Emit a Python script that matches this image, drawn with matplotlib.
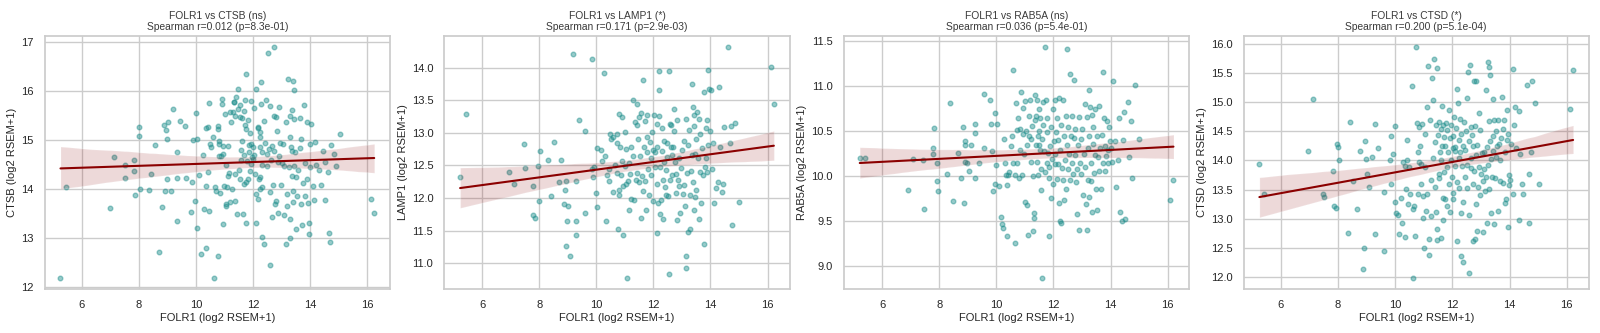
import numpy as np
import matplotlib
matplotlib.use("Agg")
import matplotlib.pyplot as plt
import seaborn as sns

# FOLR1 (x) vs target gene (y)
ctsb_pts = [
    (5.25, 12.2), (5.44, 14.04), (7.14, 14.66), (6.99, 13.61), (7.5, 14.22), (7.5, 14.5),
    (7.84, 14.6), (7.81, 14.37), (8.0, 15.26), (8.02, 15.09), (8.05, 14.0), (7.87, 13.89),
    (8.36, 13.99), (8.44, 14.32), (8.55, 14.91), (8.71, 12.73), (8.8, 13.64), (8.89, 15.3),
    (8.96, 15.2), (8.97, 14.2), (8.92, 13.96), (9.02, 15.38), (9.0, 15.03), (9.11, 13.96),
    (9.2, 15.63), (9.33, 14.75), (9.32, 14.23), (9.32, 13.36), (9.43, 15.4), (9.63, 15.29),
    (9.64, 14.22), (9.88, 15.0), (9.87, 14.15), (9.82, 13.53), (9.96, 13.76), (10.0, 15.55),
    (10.04, 15.02), (10.05, 13.2), (10.09, 14.3), (10.18, 12.69), (10.23, 14.7), (10.28, 13.6),
    (10.35, 12.8), (10.36, 14.07), (10.36, 15.24), (10.43, 15.26), (10.43, 14.36), (10.44, 13.55),
    (10.44, 15.75), (10.5, 14.92), (10.54, 14.86), (10.58, 15.06), (10.64, 12.2), (10.65, 14.04),
    (10.72, 13.97), (10.78, 15.29), (10.78, 12.63), (10.79, 15.22), (10.81, 14.98), (10.81, 14.92),
    (10.82, 14.67), (10.85, 13.93), (10.88, 14.67), (10.92, 15.84), (10.92, 15.74), (10.94, 13.29),
    (10.95, 14.72), (10.96, 14.88), (10.99, 14.07), (11.02, 15.53), (11.05, 13.7), (11.06, 14.5),
    (11.06, 13.65), (11.09, 14.05), (11.14, 14.89), (11.14, 14.27), (11.15, 14.34), (11.2, 13.74),
    (11.21, 15.58), (11.23, 15.38), (11.25, 14.0), (11.3, 15.58), (11.33, 15.77), (11.34, 15.77),
    (11.36, 15.49), (11.36, 14.31), (11.37, 13.76), (11.42, 15.89), (11.45, 13.49), (11.47, 16.05),
    (11.48, 15.63), (11.51, 14.39), (11.54, 14.21), (11.55, 15.48), (11.56, 15.71), (11.57, 14.6),
    (11.58, 14.8), (11.61, 14.99), (11.62, 15.45), (11.65, 13.49), (11.67, 14.1), (11.69, 15.6),
    (11.69, 14.69), (11.71, 15.81), (11.72, 15.3), (11.75, 16.34), (11.75, 15.22), (11.76, 14.14),
    (11.77, 13.31), (11.78, 14.58), (11.82, 14.2), (11.84, 15.42), (11.85, 14.91), (11.86, 14.76),
    (11.88, 14.38), (11.91, 15.15), (11.93, 15.79), (11.94, 14.51), (11.94, 14.93), (11.97, 14.66),
    (11.99, 14.86), (12.0, 14.61), (12.03, 15.65), (12.04, 14.69), (12.06, 14.32), (12.09, 13.9),
    (12.1, 13.32), (12.12, 16.04), (12.16, 15.26), (12.16, 13.81), (12.18, 15.24), (12.22, 14.2),
    (12.23, 15.17), (12.24, 15.06), (12.25, 14.86), (12.25, 14.0), (12.26, 14.24), (12.29, 16.18),
    (12.29, 15.74), (12.3, 14.76), (12.3, 14.05), (12.31, 13.03), (12.33, 14.49), (12.37, 12.88),
    (12.4, 15.4), (12.43, 14.95), (12.46, 15.81), (12.49, 14.72), (12.5, 14.47), (12.52, 16.77),
    (12.55, 14.82), (12.58, 13.95), (12.59, 12.46), (12.61, 15.7), (12.64, 14.6), (12.66, 13.43),
    (12.68, 14.88), (12.69, 14.09), (12.72, 15.49), (12.74, 16.89), (12.75, 14.77), (12.78, 13.69),
    (12.8, 13.77), (12.81, 15.48), (12.83, 15.18), (12.86, 14.56), (12.88, 13.51), (12.9, 15.68),
    (12.92, 14.67), (12.96, 14.95), (12.99, 14.09), (13.0, 14.53), (13.05, 14.93), (13.07, 13.47),
    (13.1, 14.48), (13.15, 15.38), (13.17, 12.89), (13.19, 13.9), (13.2, 13.65), (13.23, 16.25),
    (13.25, 14.45), (13.28, 13.0), (13.28, 15.06), (13.29, 15.5), (13.31, 13.39), (13.32, 14.87),
    (13.35, 15.62), (13.36, 14.77), (13.37, 14.26), (13.39, 16.21), (13.4, 13.97), (13.39, 13.74),
    (13.43, 16.03), (13.44, 15.44), (13.45, 14.47), (13.46, 14.76), (13.49, 13.18), (13.52, 14.25),
    (13.56, 13.87), (13.59, 14.39), (13.64, 14.84), (13.65, 15.45), (13.68, 13.69), (13.7, 15.03),
    (13.73, 13.28), (13.77, 14.12), (13.79, 15.72), (13.82, 13.87), (13.84, 14.53), (13.89, 14.2),
    (13.91, 15.37), (13.92, 13.72), (13.96, 13.32), (13.97, 13.08), (14.0, 14.93), (14.01, 14.46),
    (14.04, 15.33), (14.1, 14.06), (14.14, 13.79), (14.17, 14.97), (14.22, 14.49), (14.3, 14.4),
    (14.37, 14.09), (14.45, 14.78), (14.51, 13.78), (14.53, 14.56), (14.62, 14.36), (14.67, 13.11),
    (14.71, 12.92), (14.75, 14.9), (14.84, 14.71), (14.92, 14.48), (15.04, 15.12), (16.15, 13.8),
    (16.25, 13.51),
]

lamp1_pts = [
    (5.23, 12.33), (5.42, 13.29), (6.95, 12.4), (7.12, 12.22), (7.47, 12.83), (7.51, 12.46),
    (7.79, 12.19), (7.79, 11.74), (7.85, 11.69), (7.95, 12.49), (8.0, 11.96), (8.02, 12.72),
    (8.32, 12.59), (8.41, 12.03), (8.52, 12.86), (8.68, 12.25), (8.78, 12.58), (8.86, 11.91),
    (8.89, 12.13), (8.93, 11.27), (8.93, 12.26), (8.97, 11.64), (9.01, 11.87), (9.07, 11.11),
    (9.17, 14.21), (9.28, 12.26), (9.28, 11.64), (9.28, 11.43), (9.4, 13.2), (9.61, 13.03),
    (9.61, 11.77), (9.84, 14.14), (9.84, 12.44), (9.87, 12.33), (9.93, 12.48), (9.98, 12.08),
    (10.01, 12.77), (10.02, 11.86), (10.16, 12.74), (10.19, 12.57), (10.26, 13.92), (10.31, 12.65),
    (10.35, 11.64), (10.36, 12.35), (10.43, 12.26), (10.45, 12.44), (10.47, 12.98), (10.53, 12.91),
    (10.59, 12.09), (10.6, 12.94), (10.66, 12.51), (10.71, 12.38), (10.73, 12.98), (10.73, 12.85),
    (10.75, 11.52), (10.79, 13.29), (10.78, 12.04), (10.8, 12.13), (10.83, 12.78), (10.87, 12.36),
    (10.9, 12.57), (10.91, 13.25), (10.93, 11.43), (10.95, 12.18), (11.0, 12.49), (11.02, 13.01),
    (11.05, 12.75), (11.05, 12.22), (11.07, 10.78), (11.1, 12.26), (11.13, 11.82), (11.15, 12.53),
    (11.19, 12.37), (11.21, 12.78), (11.23, 11.98), (11.27, 13.5), (11.29, 12.64), (11.33, 11.97),
    (11.36, 13.17), (11.38, 12.27), (11.42, 13.12), (11.44, 13.44), (11.44, 12.38), (11.47, 12.9),
    (11.49, 13.24), (11.51, 12.25), (11.53, 12.65), (11.56, 11.7), (11.58, 13.31), (11.6, 12.34),
    (11.62, 13.81), (11.64, 12.11), (11.67, 12.78), (11.69, 13.18), (11.71, 12.26), (11.73, 11.82),
    (11.76, 12.71), (11.77, 13.27), (11.79, 12.93), (11.81, 12.45), (11.84, 12.04), (11.88, 12.86),
    (11.9, 12.62), (11.93, 12.36), (11.95, 13.01), (11.97, 11.95), (11.99, 12.74), (12.02, 13.28),
    (12.04, 12.48), (12.06, 12.71), (12.11, 11.46), (12.11, 13.13), (12.12, 12.22), (12.14, 12.79),
    (12.16, 11.92), (12.18, 13.95), (12.19, 13.26), (12.2, 13.66), (12.23, 12.48), (12.24, 11.76),
    (12.26, 11.97), (12.29, 13.07), (12.3, 12.72), (12.32, 12.28), (12.33, 11.68), (12.36, 12.55),
    (12.38, 12.88), (12.41, 12.17), (12.43, 12.05), (12.44, 12.43), (12.46, 12.84), (12.48, 12.63),
    (12.5, 12.03), (12.53, 13.95), (12.54, 10.83), (12.57, 13.14), (12.58, 12.27), (12.6, 12.78),
    (12.62, 13.12), (12.64, 12.36), (12.66, 12.66), (12.69, 12.79), (12.72, 13.03), (12.73, 13.36),
    (12.75, 12.55), (12.78, 12.37), (12.8, 12.08), (12.82, 13.2), (12.84, 11.66), (12.86, 12.27),
    (12.88, 12.62), (12.9, 12.19), (12.94, 11.77), (12.97, 12.46), (13.01, 12.74), (13.03, 12.06),
    (13.07, 12.2), (13.09, 12.87), (13.12, 11.87), (13.14, 11.11), (13.14, 10.92), (13.16, 13.22),
    (13.18, 12.39), (13.2, 11.48), (13.22, 12.81), (13.25, 13.05), (13.28, 11.52), (13.3, 12.04),
    (13.32, 12.41), (13.35, 12.66), (13.36, 13.75), (13.38, 12.25), (13.39, 13.4), (13.42, 11.81),
    (13.43, 13.1), (13.44, 13.27), (13.46, 12.68), (13.47, 12.02), (13.5, 12.13), (13.51, 12.9),
    (13.53, 13.32), (13.56, 12.62), (13.59, 13.22), (13.6, 11.68), (13.62, 12.4), (13.64, 12.99),
    (13.67, 11.93), (13.7, 12.76), (13.74, 12.35), (13.77, 13.63), (13.78, 11.29), (13.8, 12.47),
    (13.84, 13.07), (13.86, 12.62), (13.87, 13.19), (13.89, 12.4), (13.92, 12.82), (13.93, 13.96),
    (13.96, 13.68), (13.99, 13.03), (14.03, 13.65), (14.07, 12.44), (14.1, 12.84), (14.14, 11.93),
    (14.18, 12.15), (14.25, 12.24), (14.3, 13.7), (14.34, 12.78), (14.42, 12.09), (14.45, 12.22),
    (14.47, 13.09), (14.63, 14.31), (14.68, 12.84), (14.71, 13.11), (14.76, 11.59), (14.87, 13.15),
    (15.01, 11.94), (16.13, 14.01), (16.22, 13.44),
]

rab5a_pts = [
    (5.22, 10.2), (5.39, 10.2), (6.92, 9.84), (7.09, 10.19), (7.46, 9.63), (7.44, 10.18),
    (7.77, 10.31), (7.78, 10.25), (7.82, 10.53), (7.94, 10.15), (7.94, 9.94), (7.97, 9.83),
    (8.29, 10.02), (8.38, 10.81), (8.5, 9.72), (8.65, 10.26), (8.76, 9.98), (8.84, 10.54),
    (8.86, 9.7), (8.89, 10.39), (8.92, 10.35), (8.92, 10.16), (8.99, 10.15), (9.06, 10.05),
    (9.13, 10.35), (9.26, 10.58), (9.27, 10.48), (9.27, 9.98), (9.39, 10.15), (9.58, 10.91),
    (9.58, 10.31), (9.79, 10.85), (9.82, 10.58), (9.84, 10.28), (9.89, 9.83), (9.95, 10.7),
    (9.96, 9.91), (9.99, 10.12), (10.04, 10.58), (10.11, 9.89), (10.17, 9.54), (10.21, 9.47),
    (10.25, 9.42), (10.28, 10.41), (10.29, 10.14), (10.35, 10.01), (10.38, 9.9), (10.39, 9.33),
    (10.41, 10.01), (10.46, 10.04), (10.52, 10.33), (10.54, 10.45), (10.58, 11.18), (10.6, 10.14),
    (10.64, 10.01), (10.66, 9.25), (10.68, 10.81), (10.71, 10.14), (10.73, 10.51), (10.76, 10.64),
    (10.78, 9.98), (10.82, 10.29), (10.84, 10.52), (10.88, 10.93), (10.9, 10.01), (10.93, 10.47),
    (10.95, 10.76), (10.97, 10.25), (11.0, 10.83), (11.02, 9.71), (11.05, 10.5), (11.07, 9.68),
    (11.09, 10.34), (11.12, 9.34), (11.14, 10.67), (11.16, 10.45), (11.17, 10.84), (11.2, 10.16),
    (11.22, 10.41), (11.25, 10.56), (11.27, 10.0), (11.28, 9.39), (11.31, 9.59), (11.32, 9.53),
    (11.34, 10.62), (11.36, 10.9), (11.38, 10.34), (11.4, 10.67), (11.41, 10.16), (11.44, 10.85),
    (11.45, 10.45), (11.46, 10.01), (11.48, 10.34), (11.49, 10.74), (11.51, 10.5), (11.53, 10.29),
    (11.54, 10.64), (11.55, 10.08), (11.57, 9.84), (11.6, 8.87), (11.61, 10.41), (11.63, 10.82),
    (11.65, 10.57), (11.68, 10.28), (11.7, 11.43), (11.71, 10.04), (11.74, 10.84), (11.76, 10.15),
    (11.77, 10.49), (11.79, 10.65), (11.81, 10.26), (11.83, 9.98), (11.85, 9.33), (11.86, 10.1),
    (11.88, 10.33), (11.91, 9.75), (11.93, 10.54), (11.95, 10.19), (11.97, 9.91), (12.0, 10.74),
    (12.01, 10.39), (12.04, 10.13), (12.06, 10.84), (12.07, 10.25), (12.1, 10.49), (12.12, 9.97),
    (12.13, 10.64), (12.16, 10.13), (12.17, 10.4), (12.19, 9.7), (12.2, 10.87), (12.22, 9.5),
    (12.24, 10.29), (12.25, 9.48), (12.27, 10.57), (12.29, 10.09), (12.32, 10.85), (12.33, 9.96),
    (12.36, 10.45), (12.38, 9.73), (12.4, 10.18), (12.43, 10.67), (12.44, 9.86), (12.46, 10.34),
    (12.48, 11.41), (12.5, 10.08), (12.52, 10.54), (12.54, 10.24), (12.57, 9.96), (12.59, 11.13),
    (12.61, 10.45), (12.64, 10.14), (12.66, 10.67), (12.68, 10.02), (12.71, 10.42), (12.72, 11.07),
    (12.74, 10.23), (12.76, 10.52), (12.78, 9.93), (12.81, 10.08), (12.83, 9.58), (12.85, 10.34),
    (12.88, 9.4), (12.9, 10.66), (12.92, 10.15), (12.96, 10.41), (12.98, 10.02), (13.01, 10.52),
    (13.03, 9.79), (13.07, 10.25), (13.09, 10.8), (13.11, 10.1), (13.14, 9.69), (13.16, 9.4),
    (13.18, 10.66), (13.2, 10.31), (13.22, 9.95), (13.23, 10.96), (13.25, 9.77), (13.26, 10.44),
    (13.28, 10.77), (13.31, 10.15), (13.33, 9.94), (13.34, 10.68), (13.36, 9.6), (13.38, 10.36),
    (13.4, 10.55), (13.42, 10.03), (13.45, 10.23), (13.47, 10.74), (13.5, 9.86), (13.52, 10.45),
    (13.54, 9.62), (13.56, 10.21), (13.59, 10.06), (13.61, 10.78), (13.64, 10.31), (13.66, 9.86),
    (13.7, 10.46), (13.72, 10.14), (13.74, 11.16), (13.77, 10.64), (13.79, 10.33), (13.82, 10.06),
    (13.84, 10.22), (13.86, 10.61), (13.9, 10.29), (13.92, 10.14), (13.96, 10.55), (13.99, 10.39),
    (14.03, 10.31), (14.06, 10.16), (14.1, 11.06), (14.14, 10.39), (14.2, 9.88), (14.25, 10.18),
    (14.3, 10.65), (14.34, 9.6), (14.41, 9.5), (14.43, 10.4), (14.47, 10.71), (14.5, 9.52),
    (14.62, 10.82), (14.65, 10.21), (14.71, 10.61), (14.75, 9.98), (14.84, 11.01), (14.98, 10.41),
    (16.08, 9.73), (16.2, 9.95),
]

ctsd_pts = [
    (5.26, 13.94), (5.43, 13.43), (6.96, 14.17), (7.13, 15.06), (7.49, 13.43), (7.51, 13.38),
    (7.82, 13.82), (7.87, 13.21), (7.93, 13.18), (7.97, 14.29), (8.0, 14.23), (8.03, 14.01),
    (8.35, 12.75), (8.42, 14.66), (8.52, 13.65), (8.68, 13.17), (8.79, 14.16), (8.88, 12.14),
    (8.93, 12.5), (8.95, 14.34), (9.0, 14.03), (9.02, 13.77), (9.09, 13.54), (9.2, 14.06),
    (9.3, 14.63), (9.3, 12.73), (9.42, 14.21), (9.61, 13.46), (9.61, 12.44), (9.82, 14.01),
    (9.86, 14.42), (9.87, 13.6), (9.93, 14.11), (9.99, 14.59), (10.01, 13.29), (10.03, 13.1),
    (10.1, 13.07), (10.14, 12.74), (10.19, 13.35), (10.25, 12.93), (10.28, 13.98), (10.33, 13.91),
    (10.35, 12.69), (10.38, 13.51), (10.4, 14.35), (10.42, 14.0), (10.45, 13.26), (10.48, 13.89),
    (10.53, 13.42), (10.59, 15.27), (10.61, 13.17), (10.62, 11.99), (10.67, 13.21), (10.7, 12.71),
    (10.73, 15.94), (10.77, 14.65), (10.8, 14.15), (10.81, 13.43), (10.83, 13.97), (10.85, 14.58),
    (10.88, 14.25), (10.9, 13.59), (10.92, 13.94), (10.95, 14.62), (10.97, 13.39), (10.99, 13.01),
    (11.02, 12.5), (11.04, 14.46), (11.06, 13.89), (11.09, 13.14), (11.11, 13.42), (11.13, 14.92),
    (11.16, 15.63), (11.18, 12.38), (11.2, 12.66), (11.23, 14.7), (11.25, 13.67), (11.27, 13.05),
    (11.3, 15.42), (11.32, 14.04), (11.34, 15.03), (11.36, 15.75), (11.38, 14.32), (11.4, 13.54),
    (11.43, 14.61), (11.44, 13.12), (11.45, 15.59), (11.46, 12.83), (11.47, 12.63), (11.5, 14.43),
    (11.52, 13.77), (11.54, 14.66), (11.55, 13.7), (11.58, 14.15), (11.59, 12.67), (11.6, 14.54),
    (11.61, 14.01), (11.64, 14.93), (11.65, 14.25), (11.66, 13.36), (11.67, 12.97), (11.68, 14.61),
    (11.71, 13.81), (11.72, 14.41), (11.74, 14.25), (11.76, 13.34), (11.78, 14.65), (11.8, 13.89),
    (11.81, 13.21), (11.83, 14.53), (11.86, 14.14), (11.88, 13.59), (11.89, 14.86), (11.92, 14.38),
    (11.93, 13.11), (11.95, 14.01), (11.96, 14.61), (11.99, 13.72), (12.01, 14.22), (12.02, 14.42),
    (12.03, 13.34), (12.04, 13.45), (12.07, 14.74), (12.08, 14.23), (12.09, 13.91), (12.11, 14.16),
    (12.14, 14.55), (12.15, 15.22), (12.16, 13.63), (12.18, 12.62), (12.2, 14.98), (12.22, 14.05),
    (12.23, 14.35), (12.24, 13.53), (12.27, 14.72), (12.28, 14.14), (12.29, 13.1), (12.3, 12.36),
    (12.31, 14.45), (12.34, 13.91), (12.36, 12.26), (12.37, 13.28), (12.38, 14.24), (12.41, 14.66),
    (12.43, 13.71), (12.45, 14.18), (12.48, 14.5), (12.5, 13.92), (12.51, 15.07), (12.53, 13.53),
    (12.55, 15.52), (12.57, 14.33), (12.59, 13.06), (12.6, 12.07), (12.62, 15.64), (12.64, 14.57),
    (12.65, 14.04), (12.67, 13.87), (12.68, 14.43), (12.71, 13.6), (12.72, 14.24), (12.73, 12.61),
    (12.76, 15.37), (12.77, 13.82), (12.78, 14.59), (12.79, 12.66), (12.81, 14.1), (12.83, 15.36),
    (12.84, 13.25), (12.86, 12.79), (12.87, 14.27), (12.9, 13.55), (12.92, 13.89), (12.93, 14.81),
    (12.95, 14.52), (12.98, 13.4), (13.0, 13.77), (13.03, 14.13), (13.06, 13.65), (13.08, 12.78),
    (13.09, 13.86), (13.12, 14.15), (13.14, 13.48), (13.16, 15.21), (13.19, 13.72), (13.2, 14.23),
    (13.22, 12.93), (13.25, 13.93), (13.26, 15.69), (13.27, 14.67), (13.28, 15.61), (13.29, 13.51),
    (13.3, 14.34), (13.33, 15.46), (13.34, 14.03), (13.36, 13.09), (13.39, 13.71), (13.41, 14.42),
    (13.42, 15.05), (13.43, 14.17), (13.46, 14.69), (13.47, 12.91), (13.49, 13.7), (13.51, 14.06),
    (13.54, 14.5), (13.56, 14.25), (13.58, 14.7), (13.61, 13.13), (13.63, 14.29), (13.65, 13.65),
    (13.68, 14.01), (13.7, 14.38), (13.74, 15.09), (13.76, 13.62), (13.78, 14.54), (13.81, 14.7),
    (13.83, 13.27), (13.85, 14.15), (13.88, 13.34), (13.9, 14.86), (13.91, 14.35), (13.93, 12.86),
    (13.96, 14.45), (13.97, 13.75), (13.99, 13.58), (14.02, 13.66), (14.04, 14.29), (14.11, 15.57),
    (14.13, 13.43), (14.15, 14.61), (14.18, 14.92), (14.23, 14.21), (14.32, 14.85), (14.34, 12.98),
    (14.37, 14.11), (14.44, 13.59), (14.47, 13.43), (14.61, 15.29), (14.67, 12.93), (14.69, 13.77),
    (14.74, 14.14), (14.78, 15.37), (14.89, 14.99), (15.04, 13.59), (16.12, 14.89), (16.22, 15.55),
]

genes = ["CTSB", "LAMP1", "RAB5A", "CTSD"]
panel_points = [ctsb_pts, lamp1_pts, rab5a_pts, ctsd_pts]
sig_labels = ["ns", "*", "ns", "*"]
spearman_r = ["0.012", "0.171", "0.036", "0.200"]
spearman_p = ["8.3e-01", "2.9e-03", "5.4e-01", "5.1e-04"]

sns.set_theme(style="whitegrid")
plt.rcParams["font.family"] = ["Liberation Sans", "DejaVu Sans"]

fig, axes = plt.subplots(1, 4, figsize=(16, 3.33), dpi=100)
fig.subplots_adjust(left=0.028, right=0.993, bottom=0.132, top=0.892, wspace=0.158)

for ax, gene, pts, sig, r, p in zip(axes, genes, panel_points, sig_labels, spearman_r, spearman_p):
    xy = np.array(pts)
    sns.regplot(x=xy[:, 0], y=xy[:, 1], ax=ax, color="darkred", seed=0,
                scatter_kws={"color": "#1a8c8a", "alpha": 0.45, "s": 11},
                line_kws={"lw": 1.5})
    ax.set_title(f"FOLR1 vs {gene} ({sig})\nSpearman r={r} (p={p})",
                 fontsize=7.4, color="#3a3a3a", pad=4, linespacing=1.15)
    ax.set_xlabel("FOLR1 (log2 RSEM+1)", fontsize=8, labelpad=2)
    ax.set_ylabel(f"{gene} (log2 RSEM+1)", fontsize=8, labelpad=3)
    ax.tick_params(labelsize=8, pad=2)

fig.savefig("out.png", dpi=100)
